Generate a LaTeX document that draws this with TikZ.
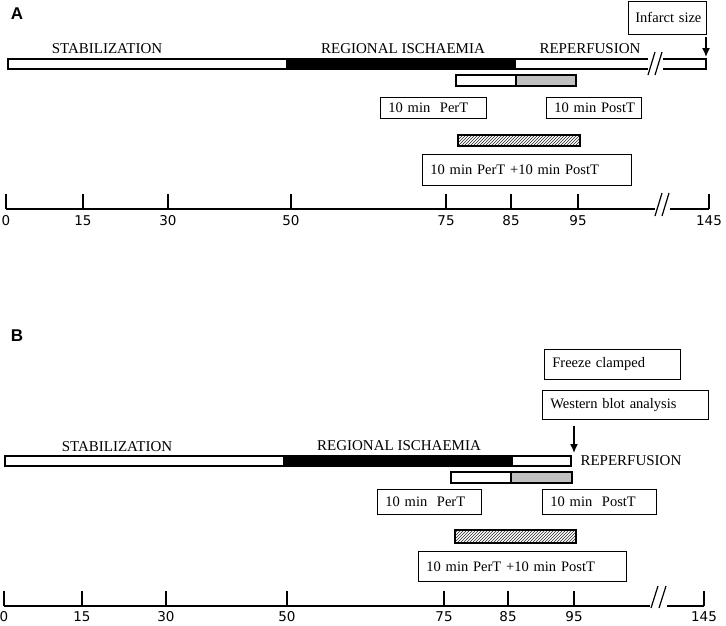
\documentclass[tikz,border=0pt]{standalone}
\usepackage{fontspec}
\setmainfont{Liberation Serif}
\newfontfamily\ticksfont{DejaVu Sans}
\newfontfamily\panelfont{Liberation Sans}
\usetikzlibrary{patterns, arrows.meta}

\definecolor{postgray}{RGB}{192,192,192}

\tikzset{
  bar/.style={draw=black, line width=1.3pt},
  tbox/.style={draw=black, line width=0.8pt, anchor=north west, inner xsep=8pt, inner ysep=0pt,
    align=left, font=\fontsize{14.5}{16}\selectfont},
  phase/.style={font=\fontsize{15}{17}\selectfont},
  tickline/.style={line width=1.2pt},
  num/.style={font=\ticksfont\fontsize{13.5}{15}\selectfont},
  brk/.style={line width=1.2pt},
  panel/.style={font=\panelfont\bfseries\fontsize{17}{19}\selectfont},
  hatch/.style={bar, pattern=north east lines, pattern color=black!85},
  downarrow/.style={line width=1.5pt, -{Latex[length=9pt, width=8pt]}}
}

\begin{document}
\begin{tikzpicture}[x=1pt, y=-1pt]
  \useasboundingbox (0,0) rectangle (726,625);

  % ---------- panel A ----------
  \node[panel] (labA) at (17,14) {A};
  \node[phase] (stabA) at (107,49) {STABILIZATION};
  \node[phase] (ischA) at (403,49) {REGIONAL ISCHAEMIA};
  \node[phase] (repA) at (590,49) {REPERFUSION};

  \draw[bar, fill=white] (8,59) rectangle (287,69);
  \draw[bar, fill=black] (287,59) rectangle (516,69);
  \fill[white] (516,59) rectangle (648,69);
  \draw[bar] (516,59) -- (648,59) (516,69) -- (648,69);
  \draw[bar] (663,59) -- (706,59) -- (706,69) -- (663,69);
  \draw[brk] (648,75) -- (655,52) (655,75) -- (662,52);
  \coordinate (endA) at (706,57);

  \node[tbox, inner xsep=7pt, minimum width=78, minimum height=33, text width=64] (infarct) at (628,0.5) {\mbox{Infarct size}};
  \draw[downarrow] ([yshift=-3pt]infarct.south -| endA) -- (endA);

  \draw[bar, fill=white] (456,75) rectangle (516,86);
  \draw[bar, fill=postgray] (516,75) rectangle (576,86);
  \node[tbox, minimum width=106, minimum height=21, text width=90] (perA) at (380,97) {\mbox{10 min\ \ PerT}};
  \node[tbox, minimum width=95, minimum height=21, text width=79] (postA) at (546,97) {\mbox{10 min PostT}};

  \draw[hatch] (458,135) rectangle (580,146);
  \node[tbox, minimum width=209, minimum height=31, text width=193] (bothA) at (422,154) {\mbox{10 min PerT +10 min PostT}};

  \draw[tickline] (6,209) -- (655,209) (670,209) -- (709,209);
  \draw[brk] (655,216) -- (662,193) (662,216) -- (669,193);
  \foreach \x/\t in {6/0, 83/15, 168/30, 291/50, 446/75, 511/85, 578/95, 709/145} {
    \draw[tickline] (\x,194) -- (\x,209);
    \node[num] (tA\t) at (\x,221) {\t};
  }

  % ---------- panel B ----------
  \node[panel] (labB) at (17,336) {B};
  \node[phase] (stabB) at (117,447) {STABILIZATION};
  \node[phase] (ischB) at (399,446) {REGIONAL ISCHAEMIA};
  \node[phase, anchor=west] (repB) at (577,461) {REPERFUSION};

  \node[tbox, minimum width=136, minimum height=30, text width=120] (freeze) at (544,349) {\mbox{Freeze clamped}};
  \node[tbox, minimum width=166, minimum height=29, text width=150] (western) at (542,390) {\mbox{Western blot analysis}};

  \draw[bar, fill=white] (5,456) rectangle (284,466);
  \draw[bar, fill=black] (284,456) rectangle (512,466);
  \draw[bar, fill=white] (512,456) rectangle (571,466);
  \coordinate (endB) at (574,453);
  \draw[downarrow] ([yshift=-6pt]western.south -| endB) -- (endB);

  \draw[bar, fill=white] (451,472) rectangle (511,483);
  \draw[bar, fill=postgray] (511,472) rectangle (572,483);
  \node[tbox, minimum width=104, minimum height=25, text width=88] (perB) at (377,489) {\mbox{10 min\ \ PerT}};
  \node[tbox, minimum width=114, minimum height=25, text width=98] (postB) at (542,489) {\mbox{10 min\ \ PostT}};

  \draw[hatch] (455,530) rectangle (576,543);
  \node[tbox, minimum width=208, minimum height=30, text width=192] (bothB) at (418,551) {\mbox{10 min PerT +10 min PostT}};

  \draw[tickline] (4,606) -- (650,606) (667,606) -- (704,606);
  \draw[brk] (651,608) -- (658,586) (659,608) -- (666,586);
  \foreach \x/\t in {4/0, 82/15, 166/30, 287/50, 444/75, 508/85, 574/95, 704/145} {
    \draw[tickline] (\x,591) -- (\x,606);
    \node[num] (tB\t) at (\x,617) {\t};
  }
\end{tikzpicture}
\end{document}
